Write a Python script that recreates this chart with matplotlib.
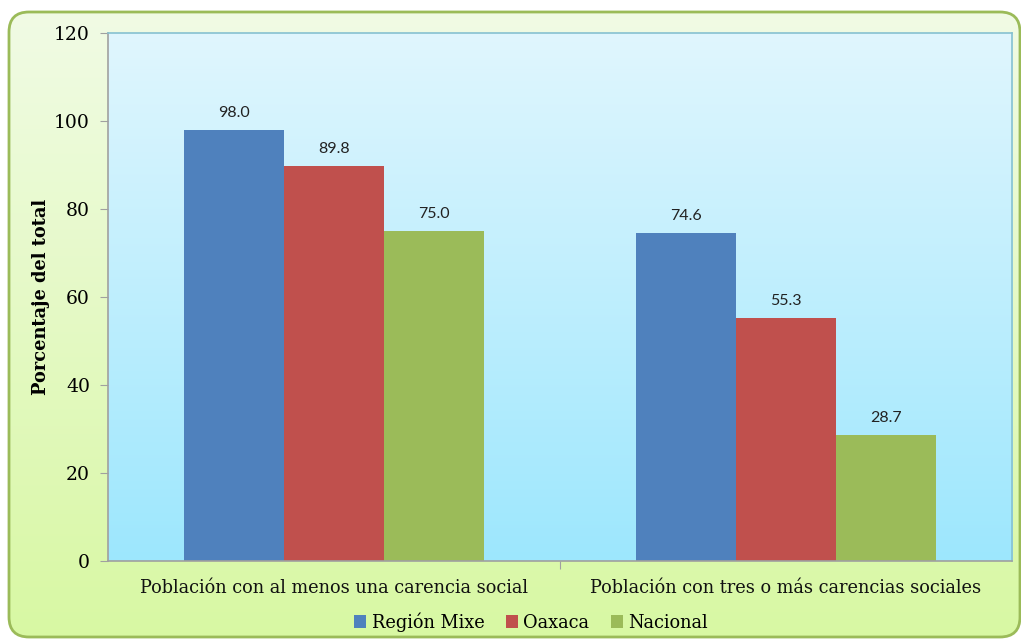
import numpy as np
import matplotlib
matplotlib.use("Agg")
import matplotlib.pyplot as plt
from matplotlib.patches import FancyBboxPatch
from matplotlib.colors import LinearSegmentedColormap

categories = ["Población con al menos una carencia social",
              "Población con tres o más carencias sociales"]
series_names = ["Región Mixe", "Oaxaca", "Nacional"]
region_mixe = [98.0, 74.6]
oaxaca = [89.8, 55.3]
nacional = [75.0, 28.7]
yticks = [0, 20, 40, 60, 80, 100, 120]

colors = ["#4F81BD", "#C0504D", "#9BBB59"]
serif = "DejaVu Serif"

W, H = 1021, 639
fig = plt.figure(figsize=(W / 100, H / 100), dpi=100)
fig.patch.set_facecolor("white")

# Background axes for outer rounded frame with gradient (bottom -> top)
bg = fig.add_axes([0, 0, 1, 1])
bg.set_xlim(0, W)
bg.set_ylim(0, H)
bg.axis("off")
grad = np.linspace(0, 1, 256).reshape(-1, 1)
cmap_outer = LinearSegmentedColormap.from_list("outer", ["#D8F8A3", "#F1FBE6"])
im = bg.imshow(grad, extent=[0, W, 0, H], cmap=cmap_outer, aspect="auto", zorder=0,
               origin="lower")
box = FancyBboxPatch((9 + 20, 2 + 20), 1011 - 40, 625 - 40,
                     boxstyle="round,pad=20", transform=bg.transData,
                     facecolor="none", edgecolor="#9BBB59", linewidth=2, zorder=2)
bg.add_patch(box)
im.set_clip_path(box)
bg.set_xlim(0, W)
bg.set_ylim(0, H)

# Main axes
ax = fig.add_axes([108 / W, 78 / H, 904 / W, 528 / H])
cmap_plot = LinearSegmentedColormap.from_list("plot", ["#9DE7FD", "#E0F6FE"])
ax.imshow(grad, extent=[-0.5, 1.5, 0, 120], cmap=cmap_plot, aspect="auto", zorder=0,
          origin="lower")
ax.set_xlim(-0.5, 1.5)
ax.set_ylim(0, 120)

x = np.arange(len(categories))
width = 0.221
for i, (vals, name) in enumerate(zip([region_mixe, oaxaca, nacional], series_names)):
    bars = ax.bar(x + (i - 1) * width, vals, width, color=colors[i], label=name, zorder=2)
    for b, v in zip(bars, vals):
        ax.annotate(f"{v:.1f}", (b.get_x() + b.get_width() / 2, v),
                    xytext=(0, 7), textcoords="offset points", ha="center", va="bottom",
                    fontsize=11.5, family="Lato", color="#222222", zorder=3)

ax.set_yticks(yticks)
ax.set_yticklabels([str(t) for t in yticks], family=serif, fontsize=13.5)
ax.set_xticks([0.5])
ax.set_xticklabels([""])
ax.tick_params(axis="y", length=6, color="#A0A0A0", pad=7)
ax.tick_params(axis="x", length=6, color="#A0A0A0")
for i, c in enumerate(categories):
    ax.text(i, -4.2, c, ha="center", va="top", family=serif, fontsize=12.8, color="#111111")

ax.spines["left"].set_color("#A0A0A0")
ax.spines["bottom"].set_color("#A0A0A0")
ax.spines["top"].set_color("#86C1D0")
ax.spines["right"].set_color("#86C1D0")
for s in ax.spines.values():
    s.set_linewidth(1.2)

ax.set_ylabel("Porcentaje del total", family=serif, fontsize=12.8, fontweight="bold",
              labelpad=3)

leg = fig.legend(loc="center", bbox_to_anchor=(0.52, 1 - 622 / H), ncol=3, frameon=False,
                 prop={"family": serif, "size": 12.8}, handlelength=0.7, handleheight=0.7,
                 handletextpad=0.3, columnspacing=1.2)

fig.savefig("out.png", dpi=100, facecolor="white")
